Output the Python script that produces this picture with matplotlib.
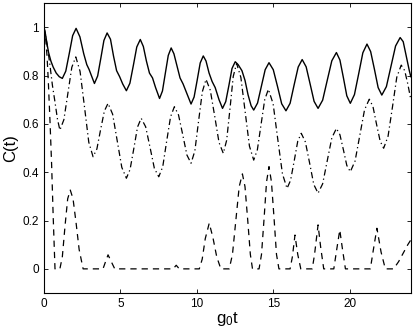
import matplotlib
matplotlib.use('Agg')
import matplotlib.pyplot as plt

plt.rcParams.update({
    'font.family': ['Liberation Sans', 'DejaVu Sans'],
    'mathtext.fontset': 'custom',
    'mathtext.rm': 'Liberation Sans',
    'mathtext.it': 'Liberation Sans',
    'font.size': 8,
})

# values
t_solid = [0.0, 0.1, 0.2, 0.3, 0.45, 0.6, 0.8, 1.0, 1.2, 1.425, 1.65, 1.875, 2.1,
           2.35, 2.6, 2.8, 2.95, 3.1, 3.3, 3.51, 3.72, 3.92, 4.13,
           4.35, 4.55, 4.75, 4.95, 5.15, 5.39, 5.62, 5.85, 6.07, 6.3,
           6.5, 6.7, 6.9, 7.1, 7.3, 7.56, 7.75, 7.94, 8.13, 8.32,
           8.5, 8.7, 8.9, 9.1, 9.35, 9.62, 9.82, 10.02, 10.22, 10.42,
           10.6, 10.8, 11.0, 11.2, 11.45, 11.68, 11.89, 12.1, 12.3, 12.51,
           12.7, 12.95, 13.15, 13.35, 13.55, 13.72, 13.97, 14.22, 14.47, 14.72,
           15.0, 15.28, 15.55, 15.83, 16.1, 16.36, 16.63, 16.89,
           17.15, 17.41, 17.67, 17.93, 18.23, 18.53, 18.83, 19.13,
           19.36, 19.59, 19.81, 20.04, 20.31, 20.59, 20.86, 21.13,
           21.37, 21.62, 21.86, 22.1, 22.4, 22.7, 23.0, 23.3,
           23.5, 23.7, 23.9, 24.0]
c_solid = [1.0, 0.97, 0.93, 0.895, 0.86, 0.835, 0.81, 0.795, 0.788, 0.818, 0.89, 0.965, 0.995,
           0.96, 0.89, 0.845, 0.825, 0.80, 0.767, 0.798, 0.872, 0.945, 0.976,
           0.95, 0.88, 0.82, 0.795, 0.765, 0.737, 0.768, 0.843, 0.918, 0.949,
           0.92, 0.86, 0.81, 0.79, 0.75, 0.705, 0.736, 0.81, 0.883, 0.914,
           0.89, 0.84, 0.79, 0.765, 0.725, 0.682, 0.711, 0.78, 0.852, 0.881,
           0.86, 0.81, 0.775, 0.75, 0.70, 0.664, 0.692, 0.76, 0.829, 0.857,
           0.845, 0.82, 0.78, 0.72, 0.675, 0.657, 0.686, 0.755, 0.824, 0.853,
           0.824, 0.754, 0.683, 0.654, 0.685, 0.76, 0.835, 0.866,
           0.836, 0.765, 0.693, 0.664, 0.698, 0.78, 0.861, 0.895,
           0.864, 0.79, 0.716, 0.685, 0.721, 0.808, 0.894, 0.93,
           0.899, 0.825, 0.75, 0.719, 0.754, 0.838, 0.922, 0.957,
           0.94, 0.88, 0.82, 0.795]

t_dashdot = [0.0, 0.2, 0.39, 0.55, 0.72, 0.88, 1.04, 1.3, 1.56, 1.82, 2.08,
             2.36, 2.65, 2.93, 3.21, 3.46, 3.7, 3.95, 4.19,
             4.49, 4.79, 5.09, 5.39, 5.63, 5.88, 6.12, 6.36,
             6.65, 6.94, 7.22, 7.51, 7.77, 8.02, 8.28, 8.53,
             8.8, 9.08, 9.35, 9.62, 9.87, 10.11, 10.36, 10.6,
             10.88, 11.17, 11.45, 11.73, 11.95, 12.17, 12.38, 12.6,
             12.88, 13.16, 13.44, 13.72, 13.96, 14.2, 14.44, 14.68,
             14.99, 15.29, 15.6, 15.9, 16.13, 16.37, 16.6, 16.83,
             17.1, 17.38, 17.65, 17.93, 18.23, 18.53, 18.83, 19.13,
             19.36, 19.59, 19.81, 20.04, 20.35, 20.66, 20.97, 21.28,
             21.52, 21.75, 21.99, 22.22, 22.51, 22.8, 23.08, 23.37,
             23.6, 23.8, 24.0]
c_dashdot = [1.0, 0.93, 0.843, 0.76, 0.69, 0.62, 0.574, 0.617, 0.725, 0.834, 0.877,
             0.817, 0.67, 0.524, 0.464, 0.496, 0.575, 0.653, 0.685,
             0.64, 0.53, 0.42, 0.375, 0.411, 0.499, 0.587, 0.623,
             0.588, 0.502, 0.416, 0.381, 0.423, 0.526, 0.629, 0.671,
             0.637, 0.554, 0.471, 0.437, 0.488, 0.61, 0.733, 0.784,
             0.739, 0.631, 0.523, 0.478, 0.532, 0.664, 0.796, 0.85,
             0.792, 0.65, 0.508, 0.45, 0.493, 0.597, 0.70, 0.743,
             0.683, 0.538, 0.393, 0.333, 0.366, 0.447, 0.528, 0.561,
             0.525, 0.437, 0.349, 0.313, 0.352, 0.447, 0.542, 0.581,
             0.555, 0.492, 0.428, 0.402, 0.446, 0.552, 0.658, 0.702,
             0.672, 0.60, 0.529, 0.499, 0.549, 0.671, 0.793, 0.843,
             0.82, 0.765, 0.70]

t_dashed = [0.0, 0.1, 0.2, 0.28, 0.4, 0.5, 0.6, 0.72, 1.04,
            1.2, 1.38, 1.55, 1.72, 1.9, 2.1, 2.3, 2.56, 3.86,
            4.0, 4.19, 4.4, 4.63, 8.45, 8.65, 8.85, 10.16,
            10.35, 10.55, 10.81, 11.05, 11.3, 11.57, 12.12,
            12.33, 12.55, 12.77, 12.98, 13.15, 13.33, 13.5, 13.64, 14.07,
            14.23, 14.4, 14.56, 14.72, 14.88, 15.05, 15.21, 15.37, 16.1,
            16.25, 16.42, 16.6, 16.8, 17.55, 17.7, 17.93, 18.1, 18.3, 18.96,
            19.15, 19.35, 19.53, 19.72, 21.35, 21.55, 21.78, 22.05, 22.33, 22.87,
            23.2, 23.5, 23.8, 24.0]
c_dashed = [1.0, 0.96, 0.88, 0.78, 0.6, 0.43, 0.22, 0.0, 0.0,
            0.05, 0.18, 0.29, 0.326, 0.29, 0.19, 0.08, 0.0, 0.0,
            0.025, 0.058, 0.03, 0.0, 0.0, 0.015, 0.0, 0.0,
            0.04, 0.125, 0.189, 0.13, 0.05, 0.0, 0.0,
            0.06, 0.2, 0.34, 0.393, 0.34, 0.2, 0.06, 0.0, 0.0,
            0.06, 0.21, 0.36, 0.423, 0.36, 0.21, 0.06, 0.0, 0.0,
            0.05, 0.14, 0.06, 0.0, 0.0, 0.06, 0.182, 0.09, 0.0, 0.0,
            0.08, 0.161, 0.08, 0.0, 0.0, 0.08, 0.168, 0.07, 0.0, 0.0,
            0.03, 0.065, 0.1, 0.12]

x_ticks = [0, 5, 10, 15, 20]
y_ticks = [0, 0.2, 0.4, 0.6, 0.8, 1]
y_ticklabels = ['0', '0.2', '0.4', '0.6', '0.8', '1']

fig = plt.figure(figsize=(4.15, 3.33), dpi=100)
ax = fig.add_axes([0.106, 0.12, 0.884, 0.871])

ax.plot(t_solid, c_solid, '-', color='black', linewidth=1.0)
ax.plot(t_dashdot, c_dashdot, '-.', color='black', linewidth=0.9, dashes=(5, 2.5, 1, 2.5))
ax.plot(t_dashed, c_dashed, '--', color='black', linewidth=0.9, dashes=(5, 4))

ax.set_xlim(0, 24)
ax.set_ylim(-0.1, 1.1)
ax.set_xticks(x_ticks)
ax.set_yticks(y_ticks)
ax.set_yticklabels(y_ticklabels)
ax.tick_params(direction='in', top=True, right=True, length=3, width=0.6,
               labelsize=8.5, colors='black')
for s in ax.spines.values():
    s.set_linewidth(0.8)

ax.set_xlabel(r'g$_{\mathregular{0}}$t', fontsize=12, labelpad=0)
ax.set_ylabel('C(t)', fontsize=12, labelpad=3)

fig.savefig('out.png', dpi=100)
